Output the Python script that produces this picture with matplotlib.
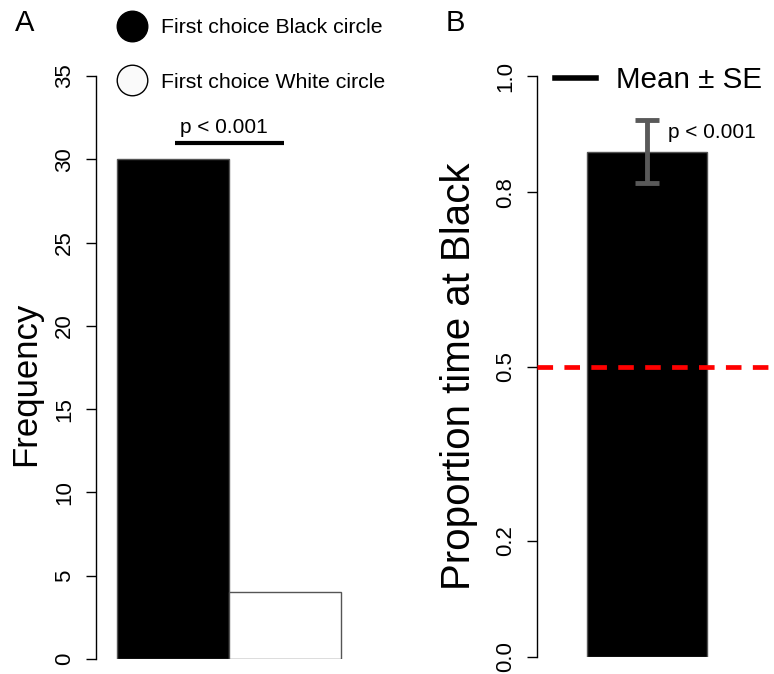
import matplotlib
matplotlib.use("Agg")
import matplotlib.pyplot as plt
from matplotlib.lines import Line2D

plt.rcParams['font.family'] = ['Liberation Sans', 'DejaVu Sans']

# panel A: first choice counts
choice_labels = ["First choice Black circle", "First choice White circle"]
choice_counts = [30, 4]
choice_colors = ["black", "white"]
freq_ticks = [0, 5, 10, 15, 20, 25, 30, 35]
p_text = "p < 0.001"
p_line_y = 31

# panel B: proportion of time at black
prop_mean = 0.87
prop_se = 0.054
chance_level = 0.5
prop_ticks = [0.0, 0.2, 0.5, 0.8, 1.0]

W, H = 774, 674
fig = plt.figure(figsize=(W / 100, H / 100), dpi=100)


def px_axes(x0, y_top, x1, y_bottom):
    return fig.add_axes([x0 / W, 1 - y_bottom / H, (x1 - x0) / W, (y_bottom - y_top) / H])


def r_style(ax):
    for s in ("top", "right", "bottom"):
        ax.spines[s].set_visible(False)
    ax.spines["left"].set_linewidth(1)
    ax.tick_params(axis="y", direction="out", length=7, width=1, pad=8, labelsize=16)
    ax.set_xticks([])
    for lab in ax.get_yticklabels():
        lab.set_rotation(90)
        lab.set_va("center")


# ---- panel A
axA = px_axes(96, 76, 380, 659)
axA.bar(range(len(choice_counts)), choice_counts, width=1.0, color=choice_colors,
        edgecolor="#555555", linewidth=1)
axA.set_xlim(-0.6875, 1.848)
axA.set_ylim(0, 35)
axA.set_yticks(freq_ticks)
r_style(axA)
axA.plot([0.02, 0.99], [p_line_y, p_line_y], color="black", lw=3, clip_on=False,
         solid_capstyle="butt")
axA.text(0.45, p_line_y + 0.9, p_text, ha="center", va="center", fontsize=15)
fig.text(25 / W, 1 - 23 / H, "A", ha="center", va="center", fontsize=21)
fig.text(26 / W, 1 - 384 / H, "Frequency", rotation=90, ha="center", va="center", fontsize=25)

handles = [Line2D([], [], marker="o", linestyle="none", markersize=22,
                  markerfacecolor=c, markeredgecolor="black", markeredgewidth=1)
           for c in ["black", "#fafafa"]]
fig.legend(handles, choice_labels, loc="center left", bbox_to_anchor=(116 / W, 1 - 55 / H),
           frameon=False, fontsize=15.3, handlelength=1.5, handletextpad=0.6,
           borderpad=0, borderaxespad=0, labelspacing=1.68)

# ---- panel B
axB = px_axes(537, 76, 774, 657)
axB.bar([0], [prop_mean], width=1.0, color="black", edgecolor="#555555", linewidth=1)
axB.errorbar([0], [prop_mean], yerr=[prop_se], color="#595959", elinewidth=3.5,
             capsize=8.5, capthick=3.5, fmt="none")
axB.axhline(chance_level, color="red", lw=3.4, linestyle=(0, (3.3, 2.4)), zorder=5)
axB.set_xlim(-0.917, 1.058)
axB.set_ylim(0, 1)
axB.set_yticks(prop_ticks)
axB.set_yticklabels([f"{t:.1f}" for t in prop_ticks])
r_style(axB)
axB.text(0.175, 0.902, p_text, ha="left", va="center", fontsize=15)
fig.text(455 / W, 1 - 23 / H, "B", ha="center", va="center", fontsize=21)
fig.text(459 / W, 1 - 376 / H, "Proportion time at Black", rotation=90, ha="center",
         va="center", fontsize=29)
fig.legend([Line2D([], [], color="black", lw=4)], ["Mean ± SE"], loc="center left",
           bbox_to_anchor=(555 / W, 1 - 80 / H), frameon=False, fontsize=21.3,
           handlelength=1.4, handletextpad=0.65, borderpad=0, borderaxespad=0)

fig.savefig("out.png", dpi=100)
